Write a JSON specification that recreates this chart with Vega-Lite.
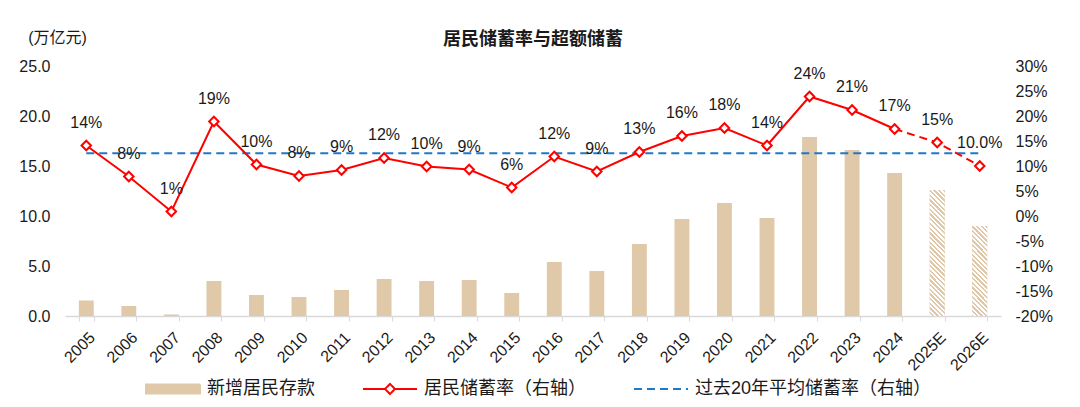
{
  "$schema": "https://vega.github.io/schema/vega-lite/v6.json",
  "width": 936,
  "height": 250,
  "autosize": {"type": "none"},
  "padding": {"left": 65, "top": 66, "right": 79, "bottom": 91},
  "background": "white",
  "title": {"text": "居民储蓄率与超额储蓄", "frame": "group", "anchor": "middle", "fontSize": 18, "fontWeight": "bold", "font": "Liberation Sans, Noto Sans CJK SC", "color": "#1a1a1a", "baseline": "middle", "offset": -29},
  "config": {
    "view": {"stroke": null},
    "axis": {"grid": false, "labelFont": "Liberation Sans, Noto Sans CJK SC", "labelFontSize": 16, "labelColor": "#1a1a1a", "titleFont": "Liberation Sans, Noto Sans CJK SC", "titleColor": "#1a1a1a"}
  },
  "data": {"values": [
    {"year": "2005", "deposit": 1.55, "rate": 14.1, "lab": "14%", "avg": 12.55},
    {"year": "2006", "deposit": 1.0, "rate": 7.9, "lab": "8%", "avg": 12.55},
    {"year": "2007", "deposit": 0.15, "rate": 0.9, "lab": "1%", "avg": 12.55},
    {"year": "2008", "deposit": 3.5, "rate": 18.9, "lab": "19%", "avg": 12.55},
    {"year": "2009", "deposit": 2.1, "rate": 10.3, "lab": "10%", "avg": 12.55},
    {"year": "2010", "deposit": 1.9, "rate": 8.0, "lab": "8%", "avg": 12.55},
    {"year": "2011", "deposit": 2.6, "rate": 9.2, "lab": "9%", "avg": 12.55},
    {"year": "2012", "deposit": 3.7, "rate": 11.6, "lab": "12%", "avg": 12.55},
    {"year": "2013", "deposit": 3.5, "rate": 9.9, "lab": "10%", "avg": 12.55},
    {"year": "2014", "deposit": 3.6, "rate": 9.3, "lab": "9%", "avg": 12.55},
    {"year": "2015", "deposit": 2.3, "rate": 5.7, "lab": "6%", "avg": 12.55},
    {"year": "2016", "deposit": 5.4, "rate": 11.9, "lab": "12%", "avg": 12.55},
    {"year": "2017", "deposit": 4.5, "rate": 8.9, "lab": "9%", "avg": 12.55},
    {"year": "2018", "deposit": 7.2, "rate": 12.8, "lab": "13%", "avg": 12.55},
    {"year": "2019", "deposit": 9.7, "rate": 16.0, "lab": "16%", "avg": 12.55},
    {"year": "2020", "deposit": 11.3, "rate": 17.6, "lab": "18%", "avg": 12.55},
    {"year": "2021", "deposit": 9.8, "rate": 14.1, "lab": "14%", "avg": 12.55},
    {"year": "2022", "deposit": 17.9, "rate": 23.9, "lab": "24%", "avg": 12.55},
    {"year": "2023", "deposit": 16.6, "rate": 21.2, "lab": "21%", "avg": 12.55},
    {"year": "2024", "deposit": 14.3, "rate": 17.4, "lab": "17%", "avg": 12.55},
    {"year": "2025E", "deposit": 12.6, "rate": 14.7, "lab": "15%", "avg": 12.55},
    {"year": "2026E", "deposit": 9.0, "rate": 10.0, "lab": "10.0%", "avg": 12.55}
  ]},
  "layer": [
    {
      "encoding": {
        "x": {"field": "year", "type": "ordinal", "sort": null, "title": null, "scale": {"paddingInner": 0.65, "paddingOuter": 0.325}, "axis": {"labelAngle": -45, "tickBand": "extent", "tickSize": 5, "tickColor": "#D9D9D9", "domainColor": "#D9D9D9", "domainWidth": 1.5, "tickWidth": 1, "labelPadding": 8}},
        "y": {"field": "deposit", "type": "quantitative", "title": null, "scale": {"domain": [0, 25], "nice": false}, "axis": {"values": [0, 5, 10, 15, 20, 25], "format": ".1f", "domain": false, "ticks": false, "labelPadding": 15, "title": "(万亿元)", "titleAngle": 0, "titleX": -8, "titleY": -29, "titleAlign": "center", "titleBaseline": "middle", "titleFontSize": 16, "titleFontWeight": "normal"}}
      },
      "layer": [
        {
          "mark": {"type": "bar"},
          "encoding": {
            "color": {
              "datum": "新增居民存款",
              "scale": {"domain": ["新增居民存款", "居民储蓄率（右轴）", "过去20年平均储蓄率（右轴）"], "range": ["#DFC9A9", "#FF0000", "#1F78C8"]},
              "legend": {
                "title": null, "orient": "none", "direction": "horizontal", "legendX": 80, "legendY": 295, "padding": 0,
                "labelFont": "Liberation Sans, Noto Sans CJK SC", "labelFontSize": 18, "labelColor": "#1a1a1a", "labelOffset": 6, "labelLimit": 400,
                "columnPadding": 44, "symbolSize": 2916, "symbolStrokeWidth": 2,
                "symbolType": {"expr": "datum.value === '新增居民存款' ? 'M-1,-0.167H1V0.167H-1Z' : datum.value === '居民储蓄率（右轴）' ? 'M-1,0H-0.185L0,-0.185L0.185,0L0,0.185L-0.185,0M0.185,0H1' : 'M-1,0H1'"},
                "symbolStrokeColor": {"expr": "datum.value === '新增居民存款' ? 'transparent' : datum.value === '居民储蓄率（右轴）' ? '#FF0000' : '#1F78C8'"},
                "symbolDash": {"expr": "datum.value === '过去20年平均储蓄率（右轴）' ? [8,5] : [1,0]"},
                "encode": {"symbols": {"update": {"fillOpacity": {"signal": "datum.value === '居民储蓄率（右轴）' ? 0 : 1"}}}}
              }
            }
          }
        },
        {
          "transform": [{"filter": "datum.year === '2025E'"}],
          "mark": {"type": "bar", "fill": {"gradient": "linear", "x1": 1, "y1": 0, "x2": 0.8695, "y2": 1.1029, "stops": [
            {"offset": 0, "color": "#DFC9A9"}, {"offset": 0.0167, "color": "#DFC9A9"}, {"offset": 0.0167, "color": "#FFFFFF"}, {"offset": 0.0333, "color": "#FFFFFF"},
            {"offset": 0.0333, "color": "#DFC9A9"}, {"offset": 0.05, "color": "#DFC9A9"}, {"offset": 0.05, "color": "#FFFFFF"}, {"offset": 0.0667, "color": "#FFFFFF"},
            {"offset": 0.0667, "color": "#DFC9A9"}, {"offset": 0.0833, "color": "#DFC9A9"}, {"offset": 0.0833, "color": "#FFFFFF"}, {"offset": 0.1, "color": "#FFFFFF"},
            {"offset": 0.1, "color": "#DFC9A9"}, {"offset": 0.1167, "color": "#DFC9A9"}, {"offset": 0.1167, "color": "#FFFFFF"}, {"offset": 0.1333, "color": "#FFFFFF"},
            {"offset": 0.1333, "color": "#DFC9A9"}, {"offset": 0.15, "color": "#DFC9A9"}, {"offset": 0.15, "color": "#FFFFFF"}, {"offset": 0.1667, "color": "#FFFFFF"},
            {"offset": 0.1667, "color": "#DFC9A9"}, {"offset": 0.1833, "color": "#DFC9A9"}, {"offset": 0.1833, "color": "#FFFFFF"}, {"offset": 0.2, "color": "#FFFFFF"},
            {"offset": 0.2, "color": "#DFC9A9"}, {"offset": 0.2167, "color": "#DFC9A9"}, {"offset": 0.2167, "color": "#FFFFFF"}, {"offset": 0.2333, "color": "#FFFFFF"},
            {"offset": 0.2333, "color": "#DFC9A9"}, {"offset": 0.25, "color": "#DFC9A9"}, {"offset": 0.25, "color": "#FFFFFF"}, {"offset": 0.2667, "color": "#FFFFFF"},
            {"offset": 0.2667, "color": "#DFC9A9"}, {"offset": 0.2833, "color": "#DFC9A9"}, {"offset": 0.2833, "color": "#FFFFFF"}, {"offset": 0.3, "color": "#FFFFFF"},
            {"offset": 0.3, "color": "#DFC9A9"}, {"offset": 0.3167, "color": "#DFC9A9"}, {"offset": 0.3167, "color": "#FFFFFF"}, {"offset": 0.3333, "color": "#FFFFFF"},
            {"offset": 0.3333, "color": "#DFC9A9"}, {"offset": 0.35, "color": "#DFC9A9"}, {"offset": 0.35, "color": "#FFFFFF"}, {"offset": 0.3667, "color": "#FFFFFF"},
            {"offset": 0.3667, "color": "#DFC9A9"}, {"offset": 0.3833, "color": "#DFC9A9"}, {"offset": 0.3833, "color": "#FFFFFF"}, {"offset": 0.4, "color": "#FFFFFF"},
            {"offset": 0.4, "color": "#DFC9A9"}, {"offset": 0.4167, "color": "#DFC9A9"}, {"offset": 0.4167, "color": "#FFFFFF"}, {"offset": 0.4333, "color": "#FFFFFF"},
            {"offset": 0.4333, "color": "#DFC9A9"}, {"offset": 0.45, "color": "#DFC9A9"}, {"offset": 0.45, "color": "#FFFFFF"}, {"offset": 0.4667, "color": "#FFFFFF"},
            {"offset": 0.4667, "color": "#DFC9A9"}, {"offset": 0.4833, "color": "#DFC9A9"}, {"offset": 0.4833, "color": "#FFFFFF"}, {"offset": 0.5, "color": "#FFFFFF"},
            {"offset": 0.5, "color": "#DFC9A9"}, {"offset": 0.5167, "color": "#DFC9A9"}, {"offset": 0.5167, "color": "#FFFFFF"}, {"offset": 0.5333, "color": "#FFFFFF"},
            {"offset": 0.5333, "color": "#DFC9A9"}, {"offset": 0.55, "color": "#DFC9A9"}, {"offset": 0.55, "color": "#FFFFFF"}, {"offset": 0.5667, "color": "#FFFFFF"},
            {"offset": 0.5667, "color": "#DFC9A9"}, {"offset": 0.5833, "color": "#DFC9A9"}, {"offset": 0.5833, "color": "#FFFFFF"}, {"offset": 0.6, "color": "#FFFFFF"},
            {"offset": 0.6, "color": "#DFC9A9"}, {"offset": 0.6167, "color": "#DFC9A9"}, {"offset": 0.6167, "color": "#FFFFFF"}, {"offset": 0.6333, "color": "#FFFFFF"},
            {"offset": 0.6333, "color": "#DFC9A9"}, {"offset": 0.65, "color": "#DFC9A9"}, {"offset": 0.65, "color": "#FFFFFF"}, {"offset": 0.6667, "color": "#FFFFFF"},
            {"offset": 0.6667, "color": "#DFC9A9"}, {"offset": 0.6833, "color": "#DFC9A9"}, {"offset": 0.6833, "color": "#FFFFFF"}, {"offset": 0.7, "color": "#FFFFFF"},
            {"offset": 0.7, "color": "#DFC9A9"}, {"offset": 0.7167, "color": "#DFC9A9"}, {"offset": 0.7167, "color": "#FFFFFF"}, {"offset": 0.7333, "color": "#FFFFFF"},
            {"offset": 0.7333, "color": "#DFC9A9"}, {"offset": 0.75, "color": "#DFC9A9"}, {"offset": 0.75, "color": "#FFFFFF"}, {"offset": 0.7667, "color": "#FFFFFF"},
            {"offset": 0.7667, "color": "#DFC9A9"}, {"offset": 0.7833, "color": "#DFC9A9"}, {"offset": 0.7833, "color": "#FFFFFF"}, {"offset": 0.8, "color": "#FFFFFF"},
            {"offset": 0.8, "color": "#DFC9A9"}, {"offset": 0.8167, "color": "#DFC9A9"}, {"offset": 0.8167, "color": "#FFFFFF"}, {"offset": 0.8333, "color": "#FFFFFF"},
            {"offset": 0.8333, "color": "#DFC9A9"}, {"offset": 0.85, "color": "#DFC9A9"}, {"offset": 0.85, "color": "#FFFFFF"}, {"offset": 0.8667, "color": "#FFFFFF"},
            {"offset": 0.8667, "color": "#DFC9A9"}, {"offset": 0.8833, "color": "#DFC9A9"}, {"offset": 0.8833, "color": "#FFFFFF"}, {"offset": 0.9, "color": "#FFFFFF"},
            {"offset": 0.9, "color": "#DFC9A9"}, {"offset": 0.9167, "color": "#DFC9A9"}, {"offset": 0.9167, "color": "#FFFFFF"}, {"offset": 0.9333, "color": "#FFFFFF"},
            {"offset": 0.9333, "color": "#DFC9A9"}, {"offset": 0.95, "color": "#DFC9A9"}, {"offset": 0.95, "color": "#FFFFFF"}, {"offset": 0.9667, "color": "#FFFFFF"},
            {"offset": 0.9667, "color": "#DFC9A9"}, {"offset": 0.9833, "color": "#DFC9A9"}, {"offset": 0.9833, "color": "#FFFFFF"}, {"offset": 1, "color": "#FFFFFF"}
          ]}}
        },
        {
          "transform": [{"filter": "datum.year === '2026E'"}],
          "mark": {"type": "bar", "fill": {"gradient": "linear", "x1": 1, "y1": 0, "x2": 0.7459, "y2": 1.5244, "stops": [
            {"offset": 0, "color": "#DFC9A9"}, {"offset": 0.0167, "color": "#DFC9A9"}, {"offset": 0.0167, "color": "#FFFFFF"}, {"offset": 0.0333, "color": "#FFFFFF"},
            {"offset": 0.0333, "color": "#DFC9A9"}, {"offset": 0.05, "color": "#DFC9A9"}, {"offset": 0.05, "color": "#FFFFFF"}, {"offset": 0.0667, "color": "#FFFFFF"},
            {"offset": 0.0667, "color": "#DFC9A9"}, {"offset": 0.0833, "color": "#DFC9A9"}, {"offset": 0.0833, "color": "#FFFFFF"}, {"offset": 0.1, "color": "#FFFFFF"},
            {"offset": 0.1, "color": "#DFC9A9"}, {"offset": 0.1167, "color": "#DFC9A9"}, {"offset": 0.1167, "color": "#FFFFFF"}, {"offset": 0.1333, "color": "#FFFFFF"},
            {"offset": 0.1333, "color": "#DFC9A9"}, {"offset": 0.15, "color": "#DFC9A9"}, {"offset": 0.15, "color": "#FFFFFF"}, {"offset": 0.1667, "color": "#FFFFFF"},
            {"offset": 0.1667, "color": "#DFC9A9"}, {"offset": 0.1833, "color": "#DFC9A9"}, {"offset": 0.1833, "color": "#FFFFFF"}, {"offset": 0.2, "color": "#FFFFFF"},
            {"offset": 0.2, "color": "#DFC9A9"}, {"offset": 0.2167, "color": "#DFC9A9"}, {"offset": 0.2167, "color": "#FFFFFF"}, {"offset": 0.2333, "color": "#FFFFFF"},
            {"offset": 0.2333, "color": "#DFC9A9"}, {"offset": 0.25, "color": "#DFC9A9"}, {"offset": 0.25, "color": "#FFFFFF"}, {"offset": 0.2667, "color": "#FFFFFF"},
            {"offset": 0.2667, "color": "#DFC9A9"}, {"offset": 0.2833, "color": "#DFC9A9"}, {"offset": 0.2833, "color": "#FFFFFF"}, {"offset": 0.3, "color": "#FFFFFF"},
            {"offset": 0.3, "color": "#DFC9A9"}, {"offset": 0.3167, "color": "#DFC9A9"}, {"offset": 0.3167, "color": "#FFFFFF"}, {"offset": 0.3333, "color": "#FFFFFF"},
            {"offset": 0.3333, "color": "#DFC9A9"}, {"offset": 0.35, "color": "#DFC9A9"}, {"offset": 0.35, "color": "#FFFFFF"}, {"offset": 0.3667, "color": "#FFFFFF"},
            {"offset": 0.3667, "color": "#DFC9A9"}, {"offset": 0.3833, "color": "#DFC9A9"}, {"offset": 0.3833, "color": "#FFFFFF"}, {"offset": 0.4, "color": "#FFFFFF"},
            {"offset": 0.4, "color": "#DFC9A9"}, {"offset": 0.4167, "color": "#DFC9A9"}, {"offset": 0.4167, "color": "#FFFFFF"}, {"offset": 0.4333, "color": "#FFFFFF"},
            {"offset": 0.4333, "color": "#DFC9A9"}, {"offset": 0.45, "color": "#DFC9A9"}, {"offset": 0.45, "color": "#FFFFFF"}, {"offset": 0.4667, "color": "#FFFFFF"},
            {"offset": 0.4667, "color": "#DFC9A9"}, {"offset": 0.4833, "color": "#DFC9A9"}, {"offset": 0.4833, "color": "#FFFFFF"}, {"offset": 0.5, "color": "#FFFFFF"},
            {"offset": 0.5, "color": "#DFC9A9"}, {"offset": 0.5167, "color": "#DFC9A9"}, {"offset": 0.5167, "color": "#FFFFFF"}, {"offset": 0.5333, "color": "#FFFFFF"},
            {"offset": 0.5333, "color": "#DFC9A9"}, {"offset": 0.55, "color": "#DFC9A9"}, {"offset": 0.55, "color": "#FFFFFF"}, {"offset": 0.5667, "color": "#FFFFFF"},
            {"offset": 0.5667, "color": "#DFC9A9"}, {"offset": 0.5833, "color": "#DFC9A9"}, {"offset": 0.5833, "color": "#FFFFFF"}, {"offset": 0.6, "color": "#FFFFFF"},
            {"offset": 0.6, "color": "#DFC9A9"}, {"offset": 0.6167, "color": "#DFC9A9"}, {"offset": 0.6167, "color": "#FFFFFF"}, {"offset": 0.6333, "color": "#FFFFFF"},
            {"offset": 0.6333, "color": "#DFC9A9"}, {"offset": 0.65, "color": "#DFC9A9"}, {"offset": 0.65, "color": "#FFFFFF"}, {"offset": 0.6667, "color": "#FFFFFF"},
            {"offset": 0.6667, "color": "#DFC9A9"}, {"offset": 0.6833, "color": "#DFC9A9"}, {"offset": 0.6833, "color": "#FFFFFF"}, {"offset": 0.7, "color": "#FFFFFF"},
            {"offset": 0.7, "color": "#DFC9A9"}, {"offset": 0.7167, "color": "#DFC9A9"}, {"offset": 0.7167, "color": "#FFFFFF"}, {"offset": 0.7333, "color": "#FFFFFF"},
            {"offset": 0.7333, "color": "#DFC9A9"}, {"offset": 0.75, "color": "#DFC9A9"}, {"offset": 0.75, "color": "#FFFFFF"}, {"offset": 0.7667, "color": "#FFFFFF"},
            {"offset": 0.7667, "color": "#DFC9A9"}, {"offset": 0.7833, "color": "#DFC9A9"}, {"offset": 0.7833, "color": "#FFFFFF"}, {"offset": 0.8, "color": "#FFFFFF"},
            {"offset": 0.8, "color": "#DFC9A9"}, {"offset": 0.8167, "color": "#DFC9A9"}, {"offset": 0.8167, "color": "#FFFFFF"}, {"offset": 0.8333, "color": "#FFFFFF"},
            {"offset": 0.8333, "color": "#DFC9A9"}, {"offset": 0.85, "color": "#DFC9A9"}, {"offset": 0.85, "color": "#FFFFFF"}, {"offset": 0.8667, "color": "#FFFFFF"},
            {"offset": 0.8667, "color": "#DFC9A9"}, {"offset": 0.8833, "color": "#DFC9A9"}, {"offset": 0.8833, "color": "#FFFFFF"}, {"offset": 0.9, "color": "#FFFFFF"},
            {"offset": 0.9, "color": "#DFC9A9"}, {"offset": 0.9167, "color": "#DFC9A9"}, {"offset": 0.9167, "color": "#FFFFFF"}, {"offset": 0.9333, "color": "#FFFFFF"},
            {"offset": 0.9333, "color": "#DFC9A9"}, {"offset": 0.95, "color": "#DFC9A9"}, {"offset": 0.95, "color": "#FFFFFF"}, {"offset": 0.9667, "color": "#FFFFFF"},
            {"offset": 0.9667, "color": "#DFC9A9"}, {"offset": 0.9833, "color": "#DFC9A9"}, {"offset": 0.9833, "color": "#FFFFFF"}, {"offset": 1, "color": "#FFFFFF"}
          ]}}
        }
      ]
    },
    {
      "encoding": {
        "x": {"field": "year", "type": "ordinal", "sort": null, "title": null, "scale": {"paddingInner": 0.65, "paddingOuter": 0.325}, "axis": {"labelAngle": -45, "tickBand": "extent", "tickSize": 5, "tickColor": "#D9D9D9", "domainColor": "#D9D9D9", "domainWidth": 1.5, "tickWidth": 1, "labelPadding": 8}},
        "y": {"field": "rate", "type": "quantitative", "title": null, "scale": {"domain": [-20, 30], "nice": false}, "axis": {"orient": "right", "values": [-20, -15, -10, -5, 0, 5, 10, 15, 20, 25, 30], "labelExpr": "datum.value + '%'", "domain": false, "ticks": false, "labelPadding": 14, "title": null}}
      },
      "layer": [
        {
          "mark": {"type": "line", "strokeDash": [8, 5], "strokeWidth": 2},
          "encoding": {
            "y": {"field": "avg", "type": "quantitative", "title": null},
            "color": {"datum": "过去20年平均储蓄率（右轴）"}
          }
        },
        {
          "transform": [{"filter": "indexof(['2025E', '2026E'], datum.year) < 0"}],
          "mark": {"type": "line", "strokeWidth": 2},
          "encoding": {"color": {"datum": "居民储蓄率（右轴）"}}
        },
        {
          "transform": [{"filter": "indexof(['2024', '2025E', '2026E'], datum.year) >= 0"}],
          "mark": {"type": "line", "strokeWidth": 2, "strokeDash": [8, 5]},
          "encoding": {"color": {"datum": "居民储蓄率（右轴）"}}
        },
        {
          "mark": {"type": "point", "shape": "diamond", "size": 90, "filled": false, "fill": "#FFFFFF", "strokeWidth": 2, "opacity": 1},
          "encoding": {"color": {"datum": "居民储蓄率（右轴）"}}
        },
        {
          "mark": {"type": "text", "dy": -23, "fontSize": 16, "font": "Liberation Sans", "color": "#1a1a1a"},
          "encoding": {"text": {"field": "lab"}}
        }
      ]
    }
  ],
  "resolve": {"scale": {"y": "independent"}}
}
